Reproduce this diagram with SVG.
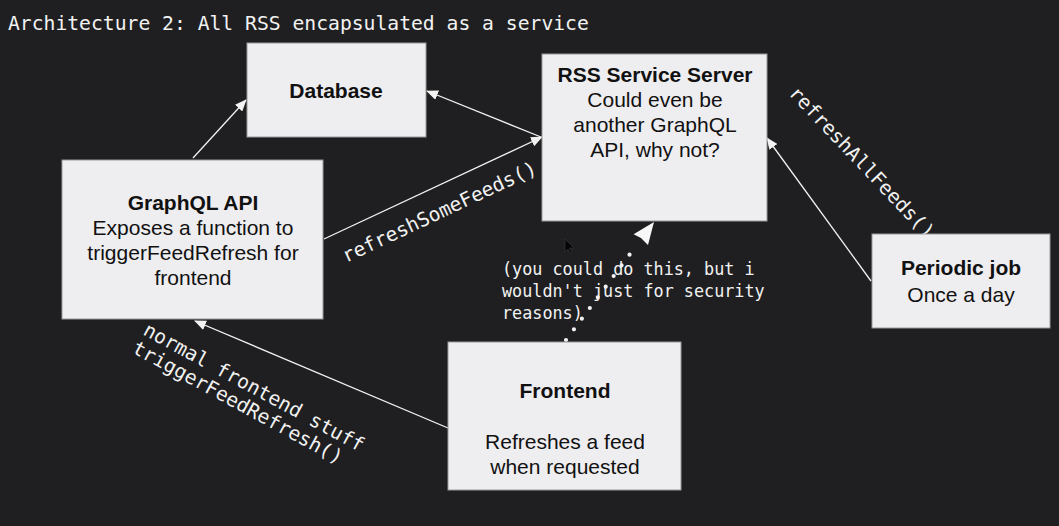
<svg xmlns="http://www.w3.org/2000/svg" width="1059" height="526" viewBox="0 0 1059 526">
  <style>
    .box { fill: #eeedf0; stroke: #9a9a9a; stroke-width: 1; }
    .t { font-family: "Liberation Sans", Arial, sans-serif; font-size: 21px; fill: #111; text-anchor: middle; }
    .b { font-weight: bold; }
    .mono { font-family: "DejaVu Sans Mono", "Liberation Mono", monospace; fill: #f2f2f2; }
    .conn { stroke: #f2f2f2; stroke-width: 1.3; fill: none; marker-end: url(#ah); }
  </style>
  <defs>
    <marker id="ah" markerUnits="userSpaceOnUse" markerWidth="12" markerHeight="10" refX="11" refY="5" orient="auto">
      <path d="M0,0 L12,5 L0,10 z" fill="#f2f2f2"/>
    </marker>
  </defs>
  <rect width="1059" height="526" fill="#1f1f21"/>

  <text class="mono" x="8" y="30" font-size="19.7">Architecture 2: All RSS encapsulated as a service</text>

  <g id="connectors">
    <line class="conn" x1="193" y1="158" x2="246" y2="100"/>
    <line class="conn" x1="541" y1="137" x2="427" y2="91"/>
    <line class="conn" x1="324" y1="239" x2="542" y2="137"/>
    <line class="conn" x1="871" y1="281" x2="767" y2="138"/>
    <line class="conn" x1="448" y1="428" x2="195" y2="321"/>
    <line x1="566" y1="340" x2="633" y2="250" stroke="#f2f2f2" stroke-width="4.2" stroke-linecap="round" stroke-dasharray="0 13.3"/>
    <polygon points="654,222 648,245 641,238 633.6,234.2" fill="#f7f7f7"/>
    <text class="mono" font-size="19.6" transform="translate(346,263) rotate(-25.1)">refreshSomeFeeds()</text>
    <text class="mono" font-size="19.6" transform="translate(788,94) rotate(46.5)">refreshAllFeeds()</text>
    <text class="mono" font-size="19.6" transform="translate(142,334) rotate(28.5)">normal frontend stuff</text>
    <text class="mono" font-size="19.6" transform="translate(131,352) rotate(28.5)">triggerFeedRefresh()</text>
    <text class="mono" font-size="16.8" x="502" y="275">(you could do this, but i</text>
    <text class="mono" font-size="16.8" x="502" y="297">wouldn't just for security</text>
    <text class="mono" font-size="16.8" x="502" y="319">reasons)</text>
  </g>

  <g id="database">
    <rect class="box" x="247" y="43" width="179" height="94"/>
    <text class="t b" x="336" y="98">Database</text>
  </g>

  <g id="rss-service-server">
    <rect class="box" x="542" y="54" width="225" height="167"/>
    <text class="t b" x="655" y="82">RSS Service Server</text>
    <text class="t" x="655" y="107">Could even be</text>
    <text class="t" x="655" y="132">another GraphQL</text>
    <text class="t" x="655" y="157">API, why not?</text>
  </g>

  <g id="graphql-api">
    <rect class="box" x="62" y="160" width="261" height="159"/>
    <text class="t b" x="193" y="210">GraphQL API</text>
    <text class="t" x="193" y="235">Exposes a function to</text>
    <text class="t" x="193" y="260">triggerFeedRefresh for</text>
    <text class="t" x="193" y="285">frontend</text>
  </g>

  <g id="periodic-job">
    <rect class="box" x="872" y="234" width="178" height="94"/>
    <text class="t b" x="961" y="275">Periodic job</text>
    <text class="t" x="961" y="302">Once a day</text>
  </g>

  <g id="frontend">
    <rect class="box" x="448" y="342" width="233" height="148"/>
    <text class="t b" x="565" y="398">Frontend</text>
    <text class="t" x="565" y="449">Refreshes a feed</text>
    <text class="t" x="565" y="474">when requested</text>
  </g>

  <path d="M565,239 L565,252 L568,249 L570.5,254 L572,253 L569.5,248 L574,248 z" fill="#050505" stroke="#3a3a3a" stroke-width="0.6"/>
</svg>
